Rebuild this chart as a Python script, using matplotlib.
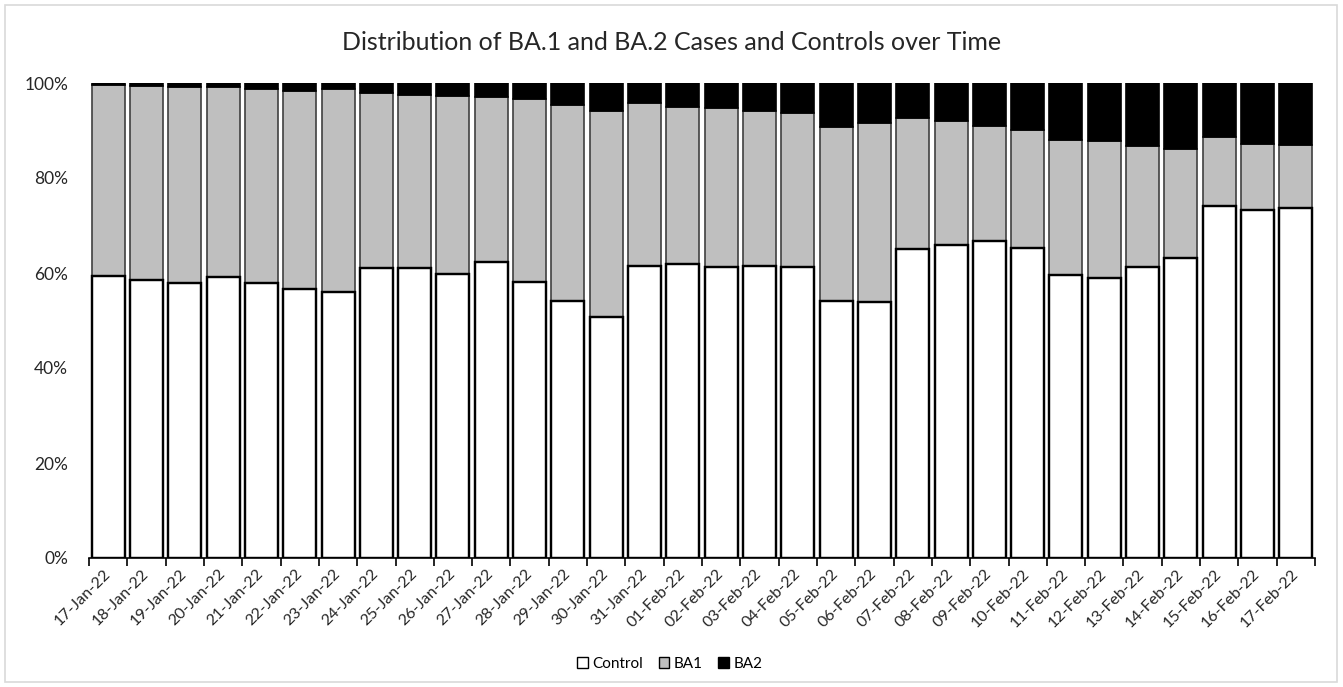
import matplotlib
matplotlib.use("Agg")
import matplotlib.pyplot as plt
from matplotlib.patches import Rectangle
import numpy as np

dates = ["17-Jan-22", "18-Jan-22", "19-Jan-22", "20-Jan-22", "21-Jan-22", "22-Jan-22",
         "23-Jan-22", "24-Jan-22", "25-Jan-22", "26-Jan-22", "27-Jan-22", "28-Jan-22",
         "29-Jan-22", "30-Jan-22", "31-Jan-22", "01-Feb-22", "02-Feb-22", "03-Feb-22",
         "04-Feb-22", "05-Feb-22", "06-Feb-22", "07-Feb-22", "08-Feb-22", "09-Feb-22",
         "10-Feb-22", "11-Feb-22", "12-Feb-22", "13-Feb-22", "14-Feb-22", "15-Feb-22",
         "16-Feb-22", "17-Feb-22"]
control = [59.4, 58.6, 58.0, 59.2, 57.8, 56.6, 55.9, 61.0, 61.0, 59.8, 62.3, 58.2,
           54.2, 50.7, 61.5, 61.8, 61.2, 61.5, 61.3, 54.2, 54.0, 65.1, 66.0, 66.7,
           65.3, 59.6, 59.0, 61.2, 63.1, 74.2, 73.3, 73.7]
ba1 = [40.2, 40.8, 41.2, 40.0, 41.0, 41.8, 42.9, 37.0, 36.5, 37.4, 34.7, 38.4,
       41.2, 43.5, 34.3, 33.2, 33.6, 32.7, 32.3, 36.5, 37.6, 27.5, 26.1, 24.2,
       24.8, 28.3, 28.7, 25.5, 23.1, 14.4, 13.8, 13.2]
ba2 = [0.4, 0.6, 0.8, 0.8, 1.2, 1.6, 1.2, 2.0, 2.5, 2.8, 3.0, 3.4,
       4.6, 5.8, 4.2, 5.0, 5.2, 5.8, 6.4, 9.3, 8.4, 7.4, 7.9, 9.1,
       9.9, 12.1, 12.3, 13.3, 13.8, 11.4, 12.9, 13.1]
title = "Distribution of BA.1 and BA.2 Cases and Controls over Time"

plt.rcParams['font.family'] = ['Lato', 'DejaVu Sans']

fig = plt.figure(figsize=(13.43, 6.87), dpi=100)
fig.patches.append(Rectangle((5/1343, 5/687), 1332/1343, 677/687, transform=fig.transFigure,
                             fill=False, edgecolor='#d9d9d9', linewidth=1.2))
ax = fig.add_axes([89/1343, 1 - 558/687, (1315 - 89)/1343, (558 - 83)/687])

x = np.arange(len(dates))
c = np.array(control)
b1 = np.array(ba1)
b2 = np.array(ba2)
tot = c + b1 + b2
c = c / tot * 100
b1 = b1 / tot * 100
b2 = b2 / tot * 100

w = 0.86
ax.bar(x, c, w, color='white', edgecolor='black', linewidth=1.6, label='Control', zorder=3)
ax.bar(x, b1, w, bottom=c, color='#bfbfbf', edgecolor='#404040', linewidth=1.2, label='BA1', zorder=2)
ax.bar(x, b2, w, bottom=c + b1, color='black', edgecolor='black', linewidth=1.2, label='BA2', zorder=2)
ax.bar(x, c, w, color='none', edgecolor='black', linewidth=1.6, zorder=4)

ax.set_xlim(-0.5, len(dates) - 0.5)
ax.set_ylim(0, 100)
for s in ['top', 'right', 'left']:
    ax.spines[s].set_visible(False)
ax.spines['bottom'].set_linewidth(1.2)
ax.spines['bottom'].set_zorder(5)

ax.set_yticks(np.arange(0, 101, 20))
ax.set_yticklabels([f"{v}%" for v in range(0, 101, 20)], fontsize=12.5, color='#262626')
ax.tick_params(axis='y', length=0, pad=15)

ax.set_xticks(np.arange(-0.5, len(dates), 1.0), minor=False)
ax.set_xticklabels([])
ax.tick_params(axis='x', which='major', length=6, width=1.2, direction='out')
ax.set_xticks(x, minor=True)
ax.set_xticklabels(dates, minor=True, rotation=45, ha='right', va='center',
                   rotation_mode='anchor', fontsize=11.5, color='#262626')
ax.tick_params(axis='x', which='minor', length=0, pad=10)

fig.text(672/1343, 1 - 42/687, title, ha='center', va='center', fontsize=18, color='#262626')

handles, labels = ax.get_legend_handles_labels()
leg = fig.legend(handles[:3], labels[:3], loc='center', bbox_to_anchor=(670/1343, 1 - 664/687),
                 ncol=3, frameon=False, fontsize=11, handlelength=0.7, handleheight=0.7,
                 handletextpad=0.3, columnspacing=1.0)
for h in leg.legend_handles:
    h.set_edgecolor('black')
    h.set_linewidth(1.0)

fig.savefig("out.png", dpi=100)
